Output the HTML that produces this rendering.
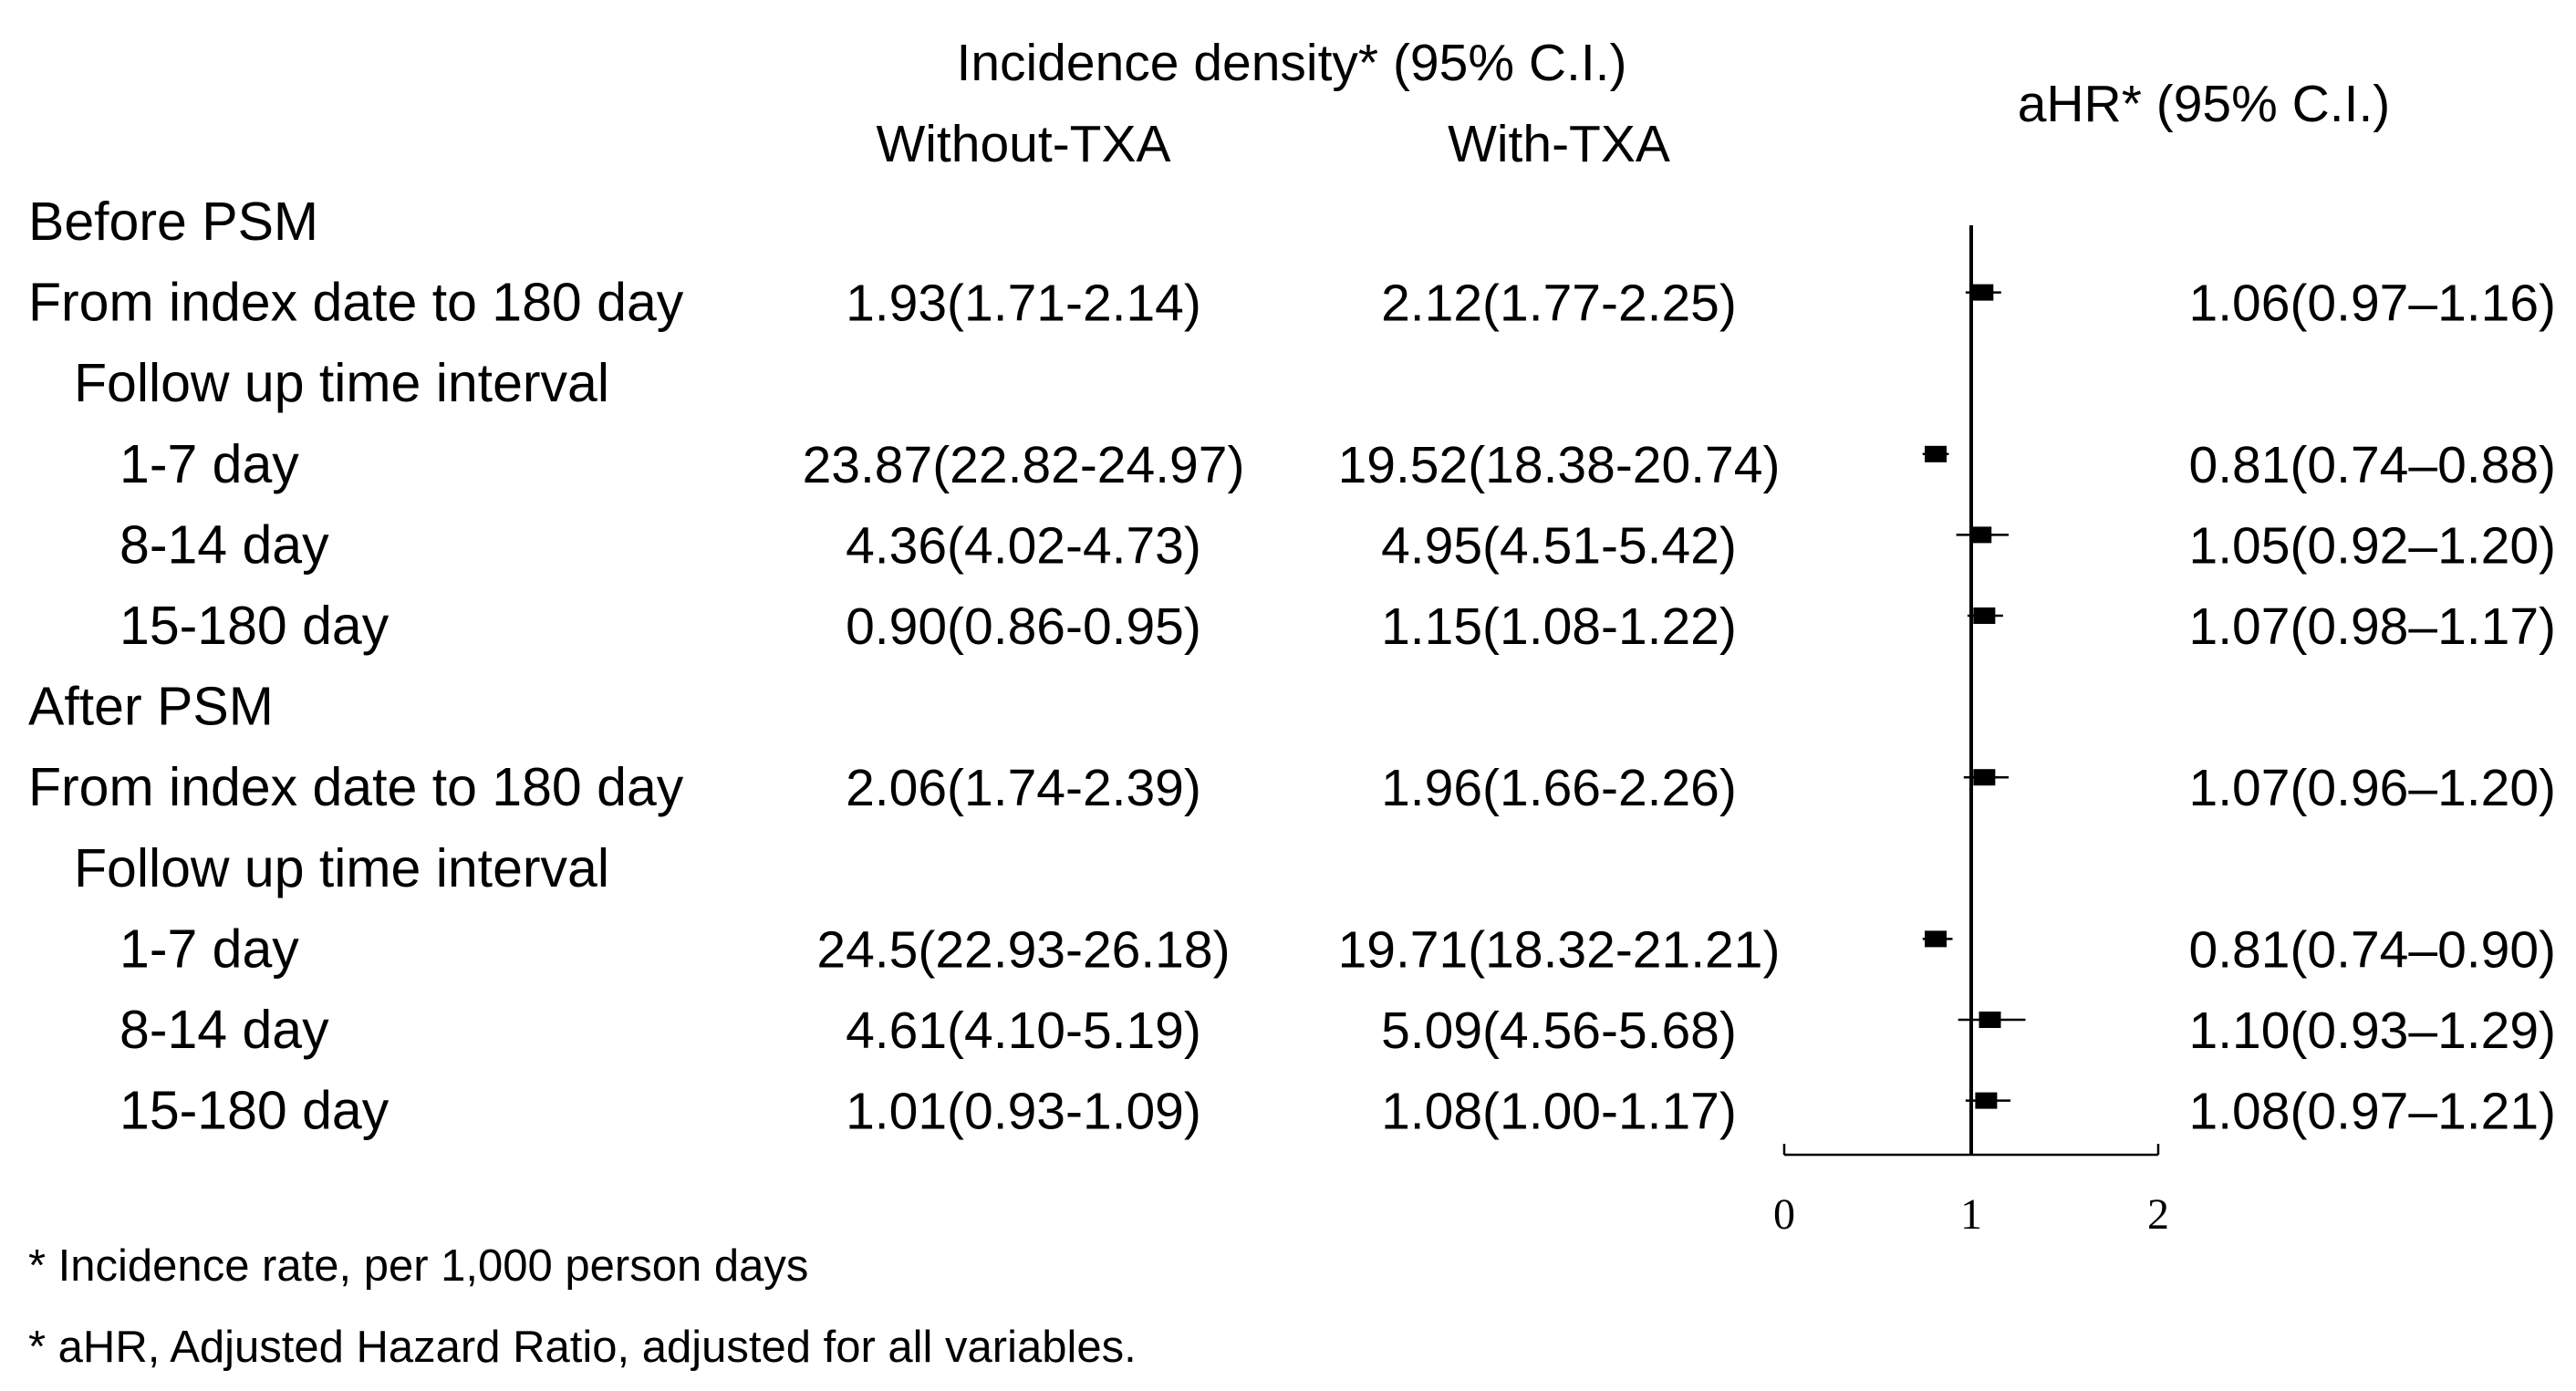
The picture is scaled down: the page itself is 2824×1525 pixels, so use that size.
<!DOCTYPE html>
<html><head><meta charset="utf-8"><style>
html,body{margin:0;padding:0;background:#fff;}
svg{display:block;}
text{font-family:"Liberation Sans",sans-serif;fill:#000;}
.t{font-size:57px;}
.l{font-size:59px;}
.f{font-size:49px;}
.tick{font-family:"Liberation Serif",serif;font-size:48px;}
</style></head><body>
<svg id="chart" width="2824" height="1525" viewBox="0 0 2824 1525" xmlns="http://www.w3.org/2000/svg">
<g>
<text class="t" x="1416" y="88" text-anchor="middle">Incidence density* (95% C.I.)</text>
<text class="t" x="1122" y="177" text-anchor="middle">Without-TXA</text>
<text class="t" x="1709" y="177" text-anchor="middle">With-TXA</text>
<text class="t" x="2416" y="133" text-anchor="middle">aHR* (95% C.I.)</text>
</g>
<g id="rows"></g>
<g id="plot"></g>
<g>
<text class="f" x="31" y="1404">* Incidence rate, per 1,000 person days</text>
<text class="f" x="31" y="1493">* aHR, Adjusted Hazard Ratio, adjusted for all variables.</text>
</g>
</svg>
<script>
const rowLabels = ["Before PSM","From index date to 180 day","Follow up time interval","1-7 day","8-14 day","15-180 day","After PSM","From index date to 180 day","Follow up time interval","1-7 day","8-14 day","15-180 day"];
const rowIndent = [0,0,1,2,2,2,0,0,1,2,2,2];
const withoutTXA = ["","1.93(1.71-2.14)","","23.87(22.82-24.97)","4.36(4.02-4.73)","0.90(0.86-0.95)","","2.06(1.74-2.39)","","24.5(22.93-26.18)","4.61(4.10-5.19)","1.01(0.93-1.09)"];
const withTXA = ["","2.12(1.77-2.25)","","19.52(18.38-20.74)","4.95(4.51-5.42)","1.15(1.08-1.22)","","1.96(1.66-2.26)","","19.71(18.32-21.21)","5.09(4.56-5.68)","1.08(1.00-1.17)"];
const hr = [null,1.06,null,0.81,1.05,1.07,null,1.07,null,0.81,1.10,1.08];
const hrLow = [null,0.97,null,0.74,0.92,0.98,null,0.96,null,0.74,0.93,0.97];
const hrHigh = [null,1.16,null,0.88,1.20,1.17,null,1.20,null,0.90,1.29,1.21];
const tickValues = [0,1,2];

const NS="http://www.w3.org/2000/svg";
const rowsG=document.getElementById('rows');
const plotG=document.getElementById('plot');
const rowY=i=>243+i*88.6;
const xS=v=>1956+v*(2366-1956)/2;
function mk(tag,attrs,parent){const e=document.createElementNS(NS,tag);for(const k in attrs)e.setAttribute(k,attrs[k]);parent.appendChild(e);return e;}
const fmt=i=>hr[i].toFixed(2)+"("+hrLow[i].toFixed(2)+"\u2013"+hrHigh[i].toFixed(2)+")";

rowLabels.forEach((lab,i)=>{
  const y=rowY(i)+20;
  const t=mk('text',{class:'l',x:31+rowIndent[i]*50,y:y},rowsG);
  
  
  t.textContent=lab;
  if(withoutTXA[i]){
    const a=mk('text',{class:'t',x:1122,y:y,'text-anchor':'middle'},rowsG);
    
    
    a.textContent=withoutTXA[i];
    const b=mk('text',{class:'t',x:1709,y:y,'text-anchor':'middle'},rowsG);
    
    
    b.textContent=withTXA[i];
  }
  if(hr[i]!==null){
    const c=mk('text',{class:'t',x:2802,y:y,'text-anchor':'end'},rowsG);
    
    
    c.textContent=fmt(i);
    const yc=rowY(i)-11;
    const l=mk('line',{x1:xS(hrLow[i]),x2:xS(hrHigh[i]),y1:yc,y2:yc,stroke:'#000','stroke-width':2.5},plotG);
    
    
    const r=mk('rect',{x:xS(hr[i])-12,y:yc-9,width:24,height:18,fill:'#000'},plotG);
    
    
  }
});
const axY=1266;
const ref=mk('line',{x1:xS(1),x2:xS(1),y1:247,y2:axY,stroke:'#000','stroke-width':4},plotG);


const ax=mk('line',{x1:xS(0),x2:xS(2),y1:axY,y2:axY,stroke:'#000','stroke-width':2.5},plotG);


tickValues.forEach(v=>{
  const tk=mk('line',{x1:xS(v),x2:xS(v),y1:axY,y2:axY-12,stroke:'#000','stroke-width':2.5},plotG);
  
  
  const tl=mk('text',{class:'tick',x:xS(v),y:1347,'text-anchor':'middle'},plotG);
  
  
  tl.textContent=v;
});
</script>
</body></html>
